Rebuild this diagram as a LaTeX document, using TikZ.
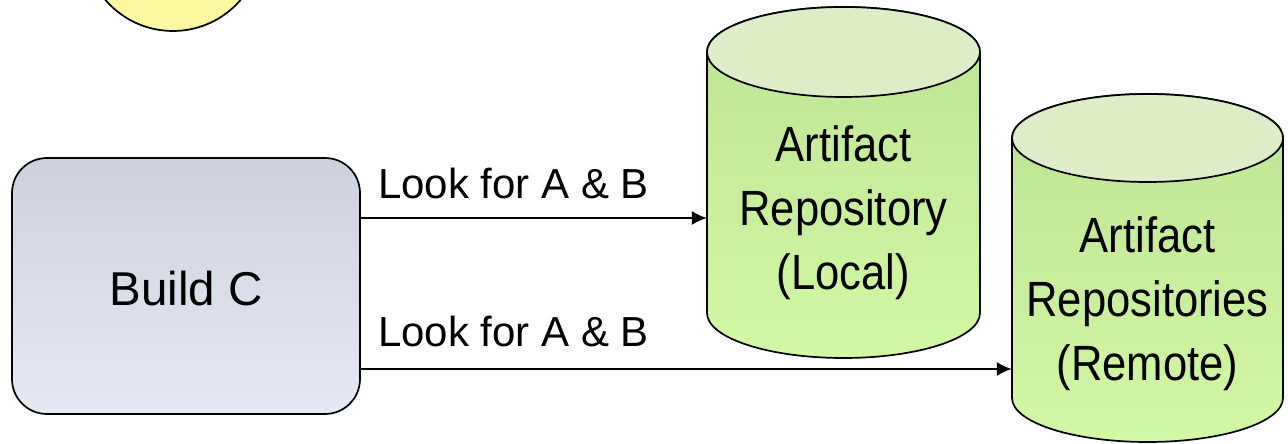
\documentclass[tikz,border=0pt]{standalone}
\usepackage{fontspec}
\setmainfont{Liberation Sans}
\newfontfamily\narrowsans[FakeStretch=0.88]{Liberation Sans}
\usetikzlibrary{arrows.meta}
\definecolor{boxtop}{RGB}{205,209,219}
\definecolor{boxbot}{RGB}{229,233,243}
\definecolor{cyltop}{RGB}{188,226,148}
\definecolor{cylbot}{RGB}{210,248,165}
\definecolor{cylcap}{RGB}{220,237,200}
\definecolor{sunfill}{RGB}{250,247,160}
\tikzset{
  outline/.style={draw=black, line width=1.7pt},
  buildbox/.style={outline, rounded corners=35pt, top color=boxtop, bottom color=boxbot,
    minimum width=348pt, minimum height=256pt, inner sep=0pt,
    text height=40pt, text depth=0pt, font=\fontsize{47.5}{57}\selectfont},
  cyltext/.style={inner sep=0pt, minimum width=273pt, anchor=base,
    font=\narrowsans\fontsize{49.5}{64}\selectfont},
  arrlabel/.style={inner sep=0pt, anchor=base west, font=\fontsize{42}{50}\selectfont},
  arr/.style={line width=1.6pt, -{Latex[length=15pt,width=14pt]}},
  sunshape/.style={outline, circle, fill=sunfill, minimum size=178pt, inner sep=0pt}
}
\begin{document}
\begin{tikzpicture}[x=1pt,y=1pt]
\useasboundingbox (0,0) rectangle (1288,444);
\clip (0,0) rectangle (1288,444);
% partial circle at top
\node[sunshape] (sun) at (173,502) {};
% build box
\node[buildbox] (build) at (186,158) {Build C};
% local repository cylinder
\shade[top color=cyltop, bottom color=cylbot, outline]
  (707,392) -- (707,131) arc[start angle=180, end angle=360, x radius=136.5pt, y radius=45pt]
  -- (980,392) arc[start angle=0, end angle=180, x radius=136.5pt, y radius=45pt] -- cycle;
\filldraw[fill=cylcap, outline] (843.5,392) ellipse[x radius=136.5pt, y radius=45pt];
\node[cyltext] (local) at (843.5,282)
  {\begin{tabular}[t]{@{}c@{}}Artifact\\Repository\\(Local)\end{tabular}};
% remote repository cylinder
\shade[top color=cyltop, bottom color=cylbot, outline]
  (1012,306) -- (1012,46) arc[start angle=180, end angle=360, x radius=135.5pt, y radius=44pt]
  -- (1283,306) arc[start angle=0, end angle=180, x radius=135.5pt, y radius=44pt] -- cycle;
\filldraw[fill=cylcap, outline] (1147.5,306) ellipse[x radius=135.5pt, y radius=44pt];
\node[cyltext, minimum width=271pt] (remote) at (1147.5,191)
  {\begin{tabular}[t]{@{}c@{}}Artifact\\Repositories\\(Remote)\end{tabular}};
% arrows
\coordinate (yA) at (0,226);
\coordinate (yB) at (0,75);
\draw[arr] (build.east |- yA) -- (local.west |- yA);
\draw[arr] (build.east |- yB) -- (remote.west |- yB);
\node[arrlabel] (lab1) at (378,245) {Look for A \& B};
\node[arrlabel] (lab2) at (378,97) {Look for A \& B};
\end{tikzpicture}
\end{document}
